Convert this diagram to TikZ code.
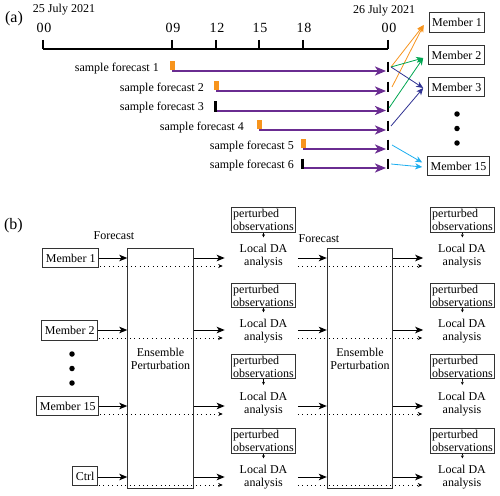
\documentclass[tikz,border=0pt]{standalone}
\usepackage{fontspec}
\setmainfont{Liberation Serif}
\newfontfamily\tickfont[LetterSpace=6]{Liberation Serif}
\usetikzlibrary{arrows.meta,calc}
\definecolor{fcpurple}{HTML}{6A2C91}
\definecolor{mkorange}{HTML}{F7941D}
\definecolor{ingreen}{HTML}{00A651}
\definecolor{indblue}{HTML}{2E3192}
\definecolor{incyan}{HTML}{1CAEEF}
\definecolor{boxgray}{HTML}{333333}
\begin{document}
\begin{tikzpicture}[x=1pt,y=-1pt,font=\fontsize{12}{13}\selectfont,
  axisline/.style={line width=2pt},
  tickline/.style={line width=2pt},
  ticklabel/.style={font=\fontsize{14}{15}\tickfont, inner sep=0pt},
  endtick/.style={line width=2.5pt},
  fcline/.style={draw=fcpurple, line width=2pt, -{Stealth[length=11pt,width=9pt,inset=3pt]}},
  memberbox/.style={draw=boxgray, line width=0.9pt, inner xsep=3pt, inner ysep=1pt, minimum height=19.5pt},
  obsbox/.style={draw=boxgray, line width=0.9pt, align=left, inner xsep=2pt, inner ysep=1.5pt},
  datext/.style={align=center, inner sep=1pt},
  ensbox/.style={draw=boxgray, line width=0.9pt, minimum width=65.5pt, minimum height=240pt, inner sep=0pt},
  colarrow/.style={line width=0.8pt, -{Stealth[length=7pt,width=6pt,inset=2pt]}},
  solidarrow/.style={line width=1pt, -{Stealth[length=8pt,width=6.5pt,inset=2pt]}},
  dotarrow/.style={line width=0.9pt, dash pattern=on 0.9pt off 3.5pt, -{Stealth[length=4.5pt,width=4pt,inset=1.5pt]}},
  tinyarrow/.style={line width=0.6pt, -{Stealth[length=3pt,width=3pt]}},
  bigdot/.style={circle, fill=black, inner sep=0pt, minimum size=5.5pt},
  panel/.style={font=\fontsize{16}{18}\selectfont, inner sep=0pt}
]
\useasboundingbox (0,0) rectangle (500,495);

% ---------------- panel (a) ----------------
\node[panel] (pa) at (14,19) {(a)};
\node[inner sep=0pt] (d25) at (64,10) {25 July 2021};
\node[inner sep=0pt] (d26) at (384,11) {26 July 2021};

\coordinate (ax0) at (43,49);
\coordinate (ax1) at (388,49);
\draw[axisline] (ax0) -- (ax1);
\foreach \x/\l/\n in {43/00/a,172/09/b,216/12/c,259/15/d,303/18/e,388/00/f} {
  \draw[tickline] (\x,40) -- (\x,49);
  \node[ticklabel] (tl\n) at (\x+1,28) {\l};
}

% sample forecasts: start x / line y / marker / label end x / index
\foreach \sx/\ly/\mk/\tx/\i in {172/71/o/159/1, 216/91/o/204/2, 216/110.5/k/204/3, 259/130/o/244/4, 303/149/o/294/5, 303/168/k/294/6} {
  \coordinate (fs\i) at (\sx,\ly);
  \coordinate (fe\i) at (386,\ly);
  \node[anchor=base east, inner sep=0pt] (fl\i) at (\tx,\ly) {sample forecast \i};
  \draw[fcline] (fs\i) -- (fe\i);
  \draw[endtick] (388,\ly-9.5) -- (388,\ly+1);
  \if\mk o
    \fill[mkorange] (\sx-2.5,\ly-10) rectangle (\sx+2.5,\ly-1);
  \else
    \draw[endtick] (\sx-0.5,\ly-9.5) -- (\sx-0.5,\ly+1);
  \fi
}

% members (a)
\node[memberbox] (m1a) at (457,22.5) {Member 1};
\node[memberbox] (m2a) at (456.5,55) {Member 2};
\node[memberbox] (m3a) at (456.5,87) {Member 3};
\node[memberbox] (m15a) at (458.5,166) {Member 15};
\node[bigdot] (dta1) at (457,114) {};
\node[bigdot] (dta2) at (457,128.5) {};
\node[bigdot] (dta3) at (457,143) {};

% coloured connectors
\coordinate (c1) at (391,67);
\coordinate (c2) at (392,87);
\coordinate (c3) at (389,108);
\coordinate (c4) at (391,126);
\coordinate (c5) at (392,145);
\coordinate (c6) at (391,164);
\draw[colarrow, mkorange] (c1) -- ($(m1a.west)+(-5,2.5)$);
\draw[colarrow, mkorange] (c2) -- ($(m1a.west)+(-5,2.5)$);
\draw[colarrow, ingreen] (c1) -- ($(m2a.west)+(-5,3)$);
\draw[colarrow, ingreen] (c3) -- ($(m2a.west)+(-5,3)$);
\draw[colarrow, indblue] (c1) -- ($(m3a.west)+(-5,1)$);
\draw[colarrow, indblue] (c4) -- ($(m3a.west)+(-5,1)$);
\draw[colarrow, incyan] (c5) -- ($(m15a.west)+(-5,-3.5)$);
\draw[colarrow, incyan] (c6) -- ($(m15a.west)+(-5,1)$);

% ---------------- panel (b) ----------------
\node[panel] (pb) at (13.5,226) {(b)};
\node[inner sep=0pt] (fc1) at (114,236) {Forecast};
\node[inner sep=0pt] (fc2) at (319,239) {Forecast};

\node[ensbox] (ens1) at (160.5,368) {};
\node[datext] (ens1t) at (160.5,358.5) {Ensemble\\Perturbation};
\node[ensbox] (ens2) at (360,368) {};
\node[datext] (ens2t) at (360,358.5) {Ensemble\\Perturbation};

\node[memberbox, anchor=east] (mb1) at (99,258) {Member 1};
\node[memberbox, anchor=east] (mb2) at (98,330.5) {Member 2};
\node[memberbox, anchor=east] (mb15) at (99,406) {Member 15};
\node[memberbox, anchor=east] (mbc) at (98,476) {Ctrl};
\node[bigdot] (dtb1) at (72,354) {};
\node[bigdot] (dtb2) at (72,368.5) {};
\node[bigdot] (dtb3) at (72,383) {};

\foreach \m/\s/\ob/\da/\i in {mb1/258/220/256.5/1, mb2/330/295.5/331.5/2, mb15/406/366.5/404/3, mbc/477/441/477.5/4} {
  \coordinate (r\i) at (0,\s);
  \coordinate (q\i) at (0,\s+8);
  % stage 1
  \draw[solidarrow] (\m.east |- r\i) -- (ens1.west |- r\i);
  \draw[dotarrow] ($(\m.east |- q\i)+(1,0)$) -- ($(ens1.east |- q\i)+(29,0)$);
  \draw[solidarrow] (ens1.east |- r\i) -- ++(31,0);
  % middle column
  \node[obsbox] (obm\i) at (263.5,\ob) {perturbed\\observations};
  \node[datext] (dam\i) at (263.5,\da) {Local DA\\analysis};
  \draw[tinyarrow, shorten >=6pt] (obm\i.south) -- (dam\i.north);
  % stage 2
  \draw[solidarrow] ($(ens2.west |- r\i)+(-29,0)$) -- (ens2.west |- r\i);
  \draw[dotarrow] ($(ens2.west |- q\i)+(-29,0)$) -- ($(ens2.east |- q\i)+(29,0)$);
  \draw[solidarrow] (ens2.east |- r\i) -- ++(30,0);
  % right column
  \node[obsbox] (obr\i) at (462.5,\ob) {perturbed\\observations};
  \node[datext] (dar\i) at (462,\da) {Local DA\\analysis};
  \draw[tinyarrow, shorten >=6pt] (obr\i.south) -- (dar\i.north);
}
\end{tikzpicture}
\end{document}
